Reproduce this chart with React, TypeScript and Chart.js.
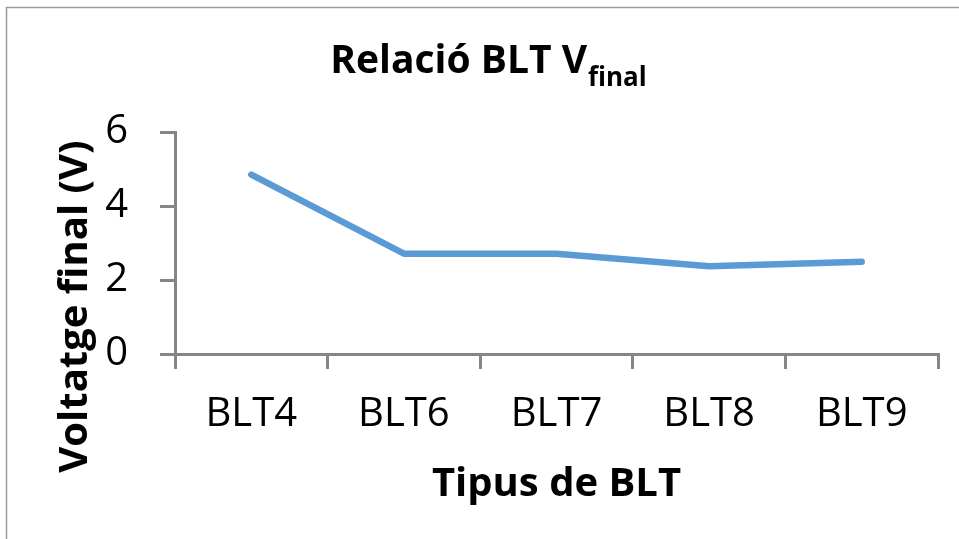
import React, { useEffect, useRef } from "react";
import { Chart, registerables } from "chart.js";

Chart.register(...registerables);

const categories = ["BLT4", "BLT6", "BLT7", "BLT8", "BLT9"];
const voltages = [4.85, 2.71, 2.71, 2.37, 2.49];
const yTicks = [0, 2, 4, 6];
const titleMain = "Relació BLT V";
const titleSub = "final";
const xTitle = "Tipus de BLT";
const yTitle = "Voltatge final (V)";

const FONT = "'Open Sans', 'DejaVu Sans', sans-serif";
const AXIS = "#868686";

const decorPlugin = {
  id: "decor",
  beforeDraw(chart: any) {
    const ctx = chart.ctx;
    ctx.save();
    ctx.fillStyle = "#ffffff";
    ctx.fillRect(0, 0, chart.width, chart.height);
    ctx.strokeStyle = "#9a9a9a";
    ctx.lineWidth = 1.5;
    ctx.strokeRect(6.5, 7.5, 2000, 2000);
    ctx.restore();
  },
  afterDraw(chart: any) {
    const ctx = chart.ctx;
    ctx.save();
    ctx.fillStyle = "#000000";
    ctx.textBaseline = "alphabetic";
    // chart title with subscript
    ctx.font = `bold 39px ${FONT}`;
    const w1 = ctx.measureText(titleMain).width;
    ctx.font = `bold 26px ${FONT}`;
    const w2 = ctx.measureText(titleSub).width;
    const start = 488 - (w1 + w2) / 2;
    ctx.font = `bold 39px ${FONT}`;
    ctx.textAlign = "left";
    ctx.fillText(titleMain, start, 73);
    ctx.font = `bold 26px ${FONT}`;
    ctx.fillText(titleSub, start + w1 + 1, 86);
    // y axis title
    ctx.translate(87, 306.5);
    ctx.rotate(-Math.PI / 2);
    ctx.font = `bold 40px ${FONT}`;
    ctx.textAlign = "center";
    ctx.fillText(yTitle, 0, 0);
    ctx.restore();
  },
};

export default function App() {
  const ref = useRef<HTMLCanvasElement | null>(null);
  useEffect(() => {
    if (!ref.current) return;
    const chart = new Chart(ref.current, {
      type: "line",
      data: {
        labels: categories,
        datasets: [
          {
            data: voltages,
            borderColor: "#5B9BD5",
            backgroundColor: "#5B9BD5",
            borderWidth: 6.5,
            pointRadius: 0,
            pointHoverRadius: 0,
            borderCapStyle: "round",
            borderJoinStyle: "round",
            tension: 0,
            fill: false,
          },
        ],
      },
      options: {
        responsive: false,
        animation: false,
        events: [],
        layout: { padding: { top: 132, right: 21, left: 0, bottom: 0 } },
        plugins: {
          legend: { display: false },
          tooltip: { enabled: false },
          title: { display: false },
        },
        scales: {
          x: {
            type: "category",
            offset: true,
            afterFit: (s: any) => {
              s.height = 185;
            },
            grid: {
              offset: true,
              drawOnChartArea: false,
              drawTicks: true,
              tickLength: 15,
              color: AXIS,
              lineWidth: 3,
            },
            border: { display: true, color: AXIS, width: 3 },
            ticks: {
              color: "#000000",
              font: { family: FONT, size: 40 },
              padding: 22,
              maxRotation: 0,
              autoSkip: false,
            },
            title: {
              display: true,
              text: xTitle,
              color: "#000000",
              font: { family: FONT, size: 40, weight: "bold" },
              padding: { top: 0, bottom: 30 },
            },
          },
          y: {
            min: 0,
            max: 6,
            afterFit: (s: any) => {
              s.width = 175;
            },
            afterBuildTicks: (s: any) => {
              s.ticks = yTicks.map((v) => ({ value: v }));
            },
            grid: {
              drawOnChartArea: false,
              drawTicks: true,
              tickLength: 15,
              color: AXIS,
              lineWidth: 3,
            },
            border: { display: true, color: AXIS, width: 3 },
            ticks: {
              color: "#000000",
              font: { family: FONT, size: 40 },
              padding: 32,
            },
          },
        },
      },
      plugins: [decorPlugin],
    } as any);
    return () => chart.destroy();
  }, []);
  return (
    <div style={{ position: "absolute", left: 0, top: 0, width: 959, height: 539 }}>
      <canvas ref={ref} width={959} height={539} style={{ display: "block" }} />
    </div>
  );
}
